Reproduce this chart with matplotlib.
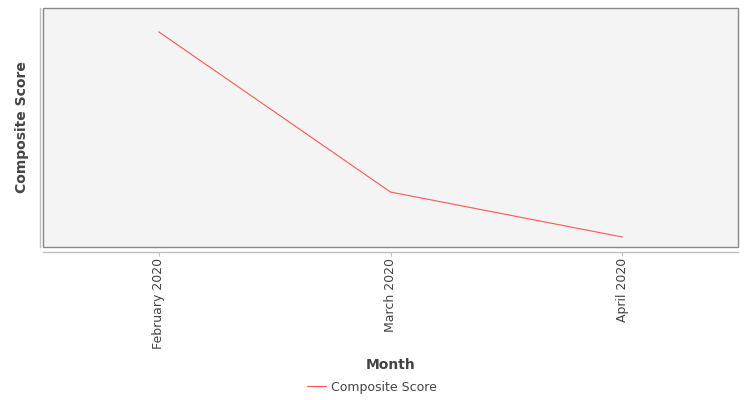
import matplotlib
matplotlib.use("Agg")
import matplotlib.pyplot as plt

months = ["February 2020", "March 2020", "April 2020"]
composite_score = [9.0, 2.3, 0.42]

fig = plt.figure(figsize=(7.5, 4.0), dpi=100)
ax = fig.add_axes([43/750, (400-247)/400, 695/750, 239/400])

x = list(range(len(months)))
ax.plot(x, composite_score, color="#ff5555", linewidth=0.8, label="Composite Score")

ax.set_xlim(-0.5, len(months) - 0.5)
ax.set_ylim(0, 10)

ax.patch.set_facecolor("#f4f4f4")
ax.patch.set_edgecolor("#888888")
ax.patch.set_linewidth(1.0)

for s in ["top", "right"]:
    ax.spines[s].set_visible(False)
ax.spines["left"].set_position(("outward", 2.2))
ax.spines["bottom"].set_position(("outward", 3.6))
ax.spines["left"].set_color("#c0c0c0")
ax.spines["bottom"].set_color("#c0c0c0")
ax.spines["left"].set_linewidth(1.0)
ax.spines["bottom"].set_linewidth(1.0)

ax.set_xticks(x)
ax.set_xticklabels(months, rotation=90, fontsize=9, color="#444444")
ax.tick_params(axis="x", length=3, color="#c0c0c0", pad=1)
ax.set_yticks([])

ax.set_xlabel("Month", fontsize=10, fontweight="bold", color="#444444", labelpad=6.8)
ax.set_ylabel("Composite Score", fontsize=10, fontweight="bold", color="#444444", labelpad=8)

fig.legend(loc="center", bbox_to_anchor=(372/750, 1 - 387/400), frameon=False,
           fontsize=9, labelcolor="#444444", handlelength=1.5, handletextpad=0.4)

fig.savefig("out.png", dpi=100, facecolor="white")
